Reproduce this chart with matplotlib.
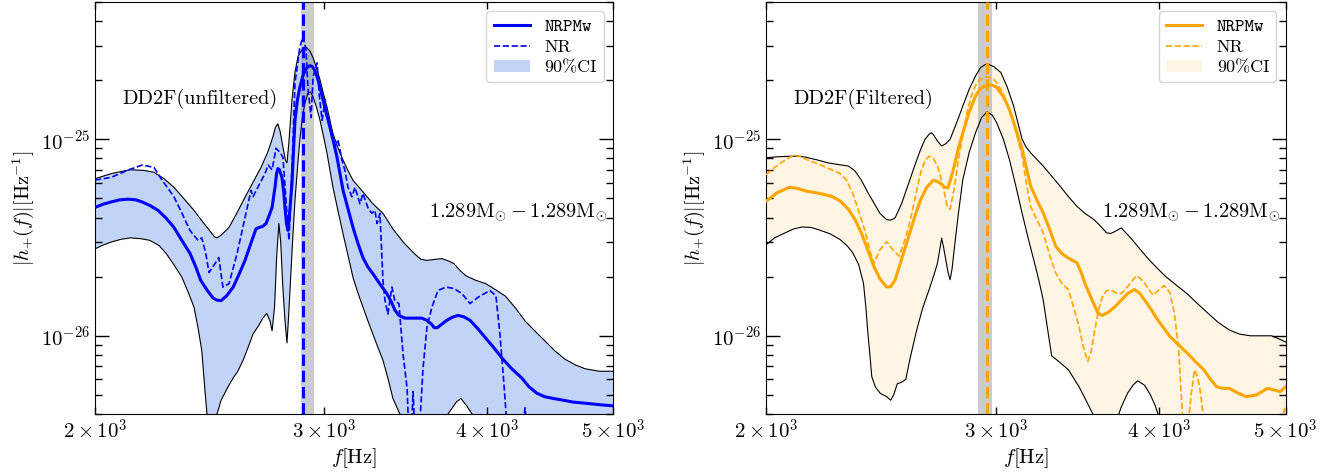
import numpy as np
import matplotlib
matplotlib.use("Agg")
import matplotlib.pyplot as plt
from matplotlib.ticker import NullFormatter, NullLocator, FixedLocator, FuncFormatter

plt.rcParams['font.family'] = 'serif'
plt.rcParams['font.serif'] = ['cmr10']
plt.rcParams['mathtext.fontset'] = 'cm'
plt.rcParams['axes.formatter.use_mathtext'] = True
plt.rcParams['axes.unicode_minus'] = False

H = 1e-26  # values below are in units of 1e-26 Hz^-1

# ---- left panel: DD2F unfiltered ----
L_up_f = [2000, 2060, 2128, 2180, 2220, 2260, 2300, 2340, 2383, 2420, 2449, 2470,
          2482, 2500, 2535, 2570, 2608, 2640, 2683, 2715, 2740, 2752, 2764, 2775,
          2790, 2802, 2809, 2818, 2834, 2849, 2865, 2884, 2905, 2925, 2942, 2960,
          2978, 3000, 3015, 3047, 3075, 3102, 3130, 3157, 3213, 3270, 3329, 3388,
          3450, 3523, 3560, 3598, 3650, 3695, 3740, 3774, 3815, 3855, 3920, 3994,
          4060, 4135, 4210, 4280, 4360, 4434, 4510, 4593, 4680, 4758, 4880, 5000]
L_up_h = [6.3, 6.7, 7.0, 6.95, 6.8, 6.3, 5.7, 5.0, 4.35, 3.8, 3.44, 3.2,
          3.15, 3.25, 3.56, 4.2, 5.07, 5.9, 7.2, 8.6, 10.3, 11.5, 12.0, 11.0,
          9.0, 7.8, 7.6, 9.5, 15.9, 22.0, 26.5, 28.6, 29.5, 28.2, 26.0, 23.0,
          20.1, 16.5, 14.6, 10.7, 9.0, 7.84, 6.9, 6.19, 5.4, 4.7, 4.2, 3.5,
          3.0, 2.6, 2.45, 2.42, 2.45, 2.47, 2.4, 2.33, 2.15, 2.02, 1.92, 1.84,
          1.72, 1.59, 1.38, 1.19, 1.05, 0.94, 0.84, 0.76, 0.71, 0.68, 0.66, 0.66]

L_lo_f = [2000, 2030, 2058, 2095, 2130, 2170, 2204, 2240, 2268, 2300, 2333, 2360,
          2383, 2400, 2416, 2430, 2440, 2455, 2470, 2482, 2500, 2527, 2554, 2575,
          2599, 2620, 2645, 2670, 2692, 2710, 2726, 2736, 2748, 2758, 2769, 2778,
          2788, 2799, 2809, 2816, 2824, 2836, 2849, 2862, 2874, 2887, 2900, 2915,
          2928, 2942, 2960, 2978, 3000, 3015, 3047, 3075, 3102, 3130, 3157, 3185,
          3213, 3240, 3270, 3300, 3329, 3360, 3388, 3430, 3470, 3520, 3682, 3735,
          3790, 3821, 3860, 3897, 3950, 4022, 5000]
L_lo_h = [2.77, 2.9, 3.0, 3.1, 3.15, 3.12, 3.06, 2.88, 2.63, 2.3, 1.98, 1.65,
          1.40, 1.1, 0.84, 0.52, 0.38, 0.3, 0.3, 0.40, 0.47, 0.54, 0.61, 0.66,
          0.75, 0.86, 1.02, 1.12, 1.23, 1.30, 1.19, 1.06, 1.4, 2.5, 3.73, 3.0,
          1.8, 1.2, 0.92, 1.2, 1.70, 2.9, 4.9, 7.2, 10.0, 13.0, 15.3, 17.2,
          17.4, 16.4, 14.5, 12.5, 10.0, 8.5, 5.7, 4.3, 3.3, 2.55, 1.98, 1.65,
          1.40, 1.2, 1.02, 0.87, 0.75, 0.6, 0.48, 0.40, 0.33, 0.3, 0.3, 0.40,
          0.46, 0.48, 0.44, 0.40, 0.33, 0.3, 0.25]

L_med_f = [2000, 2030, 2058, 2090, 2120, 2150, 2174, 2205, 2236, 2270, 2300, 2333,
           2366, 2390, 2412, 2440, 2464, 2480, 2500, 2525, 2554, 2580, 2608, 2635,
           2659, 2673, 2690, 2707, 2722, 2736, 2750, 2758, 2764, 2772, 2784, 2792,
           2799, 2807, 2814, 2822, 2834, 2849, 2861, 2874, 2892, 2910, 2925, 2937,
           2950, 2963, 2978, 2994, 3012, 3031, 3050, 3069, 3085, 3102, 3130, 3157,
           3185, 3213, 3240, 3270, 3310, 3352, 3380, 3400, 3424, 3460, 3523, 3565,
           3598, 3625, 3645, 3665, 3690, 3721, 3760, 3801, 3840, 3883, 3940, 3994,
           4050, 4109, 4180, 4255, 4310, 4371, 4430, 4497, 4580, 4659, 4740, 4818,
           4900, 5000]
L_med_h = [4.5, 4.68, 4.8, 4.92, 4.96, 4.92, 4.8, 4.6, 4.35, 3.95, 3.56, 3.05,
           2.63, 2.25, 1.91, 1.7, 1.56, 1.52, 1.51, 1.6, 1.77, 2.05, 2.42, 2.95,
           3.5, 3.56, 3.6, 3.73, 4.1, 4.5, 5.7, 6.7, 7.1, 7.0, 6.4, 5.5,
           4.5, 3.7, 3.44, 4.2, 6.0, 12.5, 15.8, 18.5, 21.5, 23.2, 23.7, 23.5,
           22.5, 20.8, 18.4, 15.9, 13.5, 11.5, 9.7, 8.1, 6.7, 5.5, 4.4, 3.56,
           2.95, 2.5, 2.25, 2.07, 1.84, 1.64, 1.48, 1.35, 1.27, 1.23, 1.23, 1.23,
           1.20, 1.15, 1.10, 1.10, 1.14, 1.19, 1.24, 1.27, 1.25, 1.20, 1.08, 0.97,
           0.87, 0.77, 0.68, 0.61, 0.55, 0.51, 0.49, 0.48, 0.47, 0.46, 0.455, 0.45,
           0.445, 0.44]

L_nr_f = [2000, 2058, 2120, 2174, 2220, 2252, 2300, 2333, 2366, 2400, 2416, 2433,
          2447, 2473, 2490, 2508, 2535, 2572, 2608, 2636, 2645, 2668, 2702, 2717,
          2736, 2755, 2774, 2789, 2809, 2819, 2834, 2849, 2874, 2890, 2905, 2915,
          2931, 2942, 2963, 2973, 2989, 3005, 3020, 3042, 3058, 3074, 3096, 3112,
          3129, 3151, 3168, 3196, 3213, 3241, 3264, 3282, 3294, 3311, 3329, 3341,
          3358, 3382, 3400, 3424, 3449, 3474, 3486, 3498, 3511, 3523, 3548, 3573,
          3598, 3630, 3669, 3721, 3774, 3828, 3883, 3938, 4022, 4065, 4094, 4123,
          4152, 4242, 4280, 4302, 4400]
L_nr_h = [6.2, 6.4, 6.97, 7.4, 7.2, 6.2, 5.1, 4.2, 3.44, 3.06, 3.15, 2.63,
          2.1, 2.33, 2.5, 1.77, 1.84, 2.63, 4.0, 5.5, 5.1, 5.7, 6.7, 7.4,
          7.0, 9.0, 8.6, 8.1, 4.2, 3.06, 7.2, 19.3, 29.7, 33.3, 28.6, 18.5,
          12.9, 20.8, 24.5, 17.2, 12.5, 15.9, 12.9, 10.7, 9.1, 10.0, 7.84, 6.97,
          5.7, 5.1, 5.7, 4.7, 5.3, 4.5, 4.2, 4.35, 3.73, 4.2, 1.91, 1.51,
          1.29, 1.77, 1.5, 1.46, 0.81, 0.54, 0.3, 0.3, 0.52, 0.3, 0.3, 0.68,
          1.10, 1.40, 1.70, 1.77, 1.74, 1.64, 1.46, 1.57, 1.70, 1.60, 1.02, 0.57,
          0.3, 0.25, 0.43, 0.3, 0.2]

L_f2_nr = 2888
L_band = (2882, 2946)

# ---- right panel: DD2F filtered ----
R_up_f = [2000, 2040, 2084, 2120, 2147, 2190, 2229, 2270, 2313, 2340, 2366, 2392,
          2419, 2445, 2474, 2492, 2511, 2540, 2568, 2597, 2627, 2647, 2666, 2676,
          2686, 2706, 2726, 2746, 2767, 2790, 2810, 2830, 2862, 2894, 2920, 2953,
          2990, 3026, 3060, 3095, 3118, 3142, 3165, 3189, 3225, 3261, 3310, 3359,
          3410, 3461, 3510, 3567, 3610, 3647, 3675, 3702, 3743, 3780, 3814, 3870,
          3930, 3990, 4048, 4120, 4202, 4280, 4362, 4440, 4528, 4610, 4699, 4800,
          4879, 4950, 5000]
R_up_h = [8.06, 8.15, 8.2, 8.2, 8.1, 7.85, 7.6, 7.45, 7.31, 6.9, 6.2, 5.4,
          4.75, 4.2, 3.9, 3.88, 3.98, 4.7, 5.8, 7.2, 8.9, 10.0, 10.6, 10.8,
          10.6, 9.8, 9.25, 9.5, 10.0, 11.5, 13.0, 14.8, 18.0, 21.0, 23.2, 24.3,
          23.4, 21.9, 18.5, 14.8, 12.2, 10.0, 9.1, 8.55, 7.9, 7.31, 6.5, 5.78,
          5.1, 4.56, 4.2, 3.9, 3.6, 3.34, 3.32, 3.4, 3.54, 3.3, 3.09, 2.75,
          2.44, 2.2, 2.0, 1.82, 1.64, 1.46, 1.30, 1.17, 1.07, 1.02, 1.0, 1.0,
          1.0, 0.96, 0.93]

R_lo_f = [2000, 2030, 2068, 2100, 2131, 2165, 2196, 2240, 2279, 2310, 2331, 2355,
          2375, 2385, 2393, 2402, 2410, 2425, 2446, 2474, 2492, 2505, 2521, 2540,
          2559, 2580, 2607, 2636, 2666, 2690, 2706, 2716, 2726, 2736, 2746, 2757,
          2767, 2777, 2787, 2808, 2830, 2862, 2894, 2925, 2953, 2980, 3003, 3040,
          3072, 3107, 3142, 3177, 3212, 3237, 3261, 3285, 3310, 3335, 3359, 3385,
          3410, 3440, 3474, 3505, 3540, 3580, 3620, 3702, 3740, 3784, 3820, 3852,
          3900, 3940, 3974, 4019, 4202, 5000]
R_lo_h = [2.90, 3.15, 3.34, 3.5, 3.58, 3.56, 3.46, 3.3, 3.09, 2.85, 2.64, 2.3,
          1.85, 1.4, 1.05, 0.8, 0.62, 0.55, 0.51, 0.49, 0.47, 0.5, 0.57, 0.58,
          0.60, 0.78, 1.05, 1.38, 1.71, 2.05, 2.34, 2.7, 3.14, 2.8, 2.44, 2.1,
          1.93, 2.2, 2.74, 4.2, 6.24, 8.6, 10.8, 12.9, 13.8, 13.3, 12.2, 10.0,
          7.9, 5.8, 4.2, 3.1, 2.34, 1.9, 1.52, 1.1, 0.79, 0.76, 0.73, 0.70,
          0.67, 0.61, 0.55, 0.49, 0.43, 0.37, 0.3, 0.35, 0.43, 0.51, 0.56, 0.59,
          0.56, 0.5, 0.44, 0.35, 0.3, 0.25]

R_med_f = [2000, 2040, 2084, 2115, 2147, 2200, 2245, 2280, 2313, 2340, 2366, 2392,
           2419, 2445, 2474, 2492, 2511, 2540, 2568, 2597, 2627, 2656, 2686, 2706,
           2726, 2742, 2756, 2771, 2787, 2808, 2830, 2862, 2894, 2920, 2953, 2980,
           3003, 3040, 3072, 3107, 3142, 3165, 3189, 3225, 3261, 3297, 3334, 3370,
           3410, 3435, 3461, 3487, 3513, 3550, 3593, 3620, 3660, 3702, 3743, 3784,
           3829, 3865, 3900, 3945, 3989, 4035, 4079, 4140, 4202, 4265, 4330, 4380,
           4428, 4480, 4528, 4600, 4665, 4750, 4843, 4900, 4953, 5000]
R_med_h = [4.84, 5.35, 5.7, 5.62, 5.45, 5.3, 5.13, 4.85, 4.4, 3.9, 3.34, 2.75,
           2.25, 1.95, 1.77, 1.78, 1.92, 2.45, 3.09, 3.95, 4.94, 5.7, 6.19, 6.1,
           5.9, 5.7, 5.66, 6.3, 7.31, 9.0, 10.8, 13.8, 16.6, 18.2, 18.9, 18.9,
           18.4, 16.5, 14.2, 11.3, 8.9, 7.2, 5.8, 4.9, 4.22, 3.5, 2.85, 2.62,
           2.48, 2.42, 2.35, 2.1, 1.82, 1.55, 1.30, 1.27, 1.32, 1.41, 1.52, 1.64,
           1.72, 1.65, 1.52, 1.36, 1.21, 1.09, 0.99, 0.9, 0.82, 0.74, 0.67, 0.6,
           0.55, 0.54, 0.54, 0.51, 0.49, 0.5, 0.54, 0.53, 0.52, 0.55]

R_nr_f = [2000, 2025, 2054, 2078, 2100, 2125, 2147, 2180, 2212, 2245, 2279, 2305,
          2331, 2358, 2384, 2402, 2419, 2446, 2474, 2500, 2530, 2560, 2587, 2607,
          2627, 2647, 2666, 2686, 2706, 2722, 2736, 2752, 2767, 2787, 2808, 2830,
          2851, 2872, 2894, 2920, 2953, 2980, 3003, 3040, 3072, 3107, 3142, 3165,
          3189, 3225, 3261, 3297, 3334, 3370, 3410, 3440, 3474, 3500, 3527, 3547,
          3567, 3595, 3620, 3648, 3675, 3710, 3743, 3790, 3843, 3870, 3900, 3930,
          3959, 3995, 4034, 4055, 4079, 4110, 4141, 4160, 4171, 4202, 4233, 4258,
          4280, 4297, 4330, 4395, 4916, 5000]
R_nr_h = [6.6, 7.1, 7.6, 8.0, 8.3, 8.2, 7.9, 7.6, 7.31, 7.0, 6.7, 6.2,
          5.3, 4.2, 3.34, 2.7, 2.34, 2.75, 3.02, 2.75, 2.54, 3.2, 4.22, 5.4,
          6.76, 7.8, 8.2, 8.0, 7.31, 6.4, 5.56, 4.6, 4.4, 5.6, 7.9, 10.5,
          13.7, 16.5, 18.8, 20.3, 20.8, 20.5, 19.5, 17.0, 14.2, 11.0, 8.2, 6.0,
          4.56, 3.9, 3.34, 2.6, 2.08, 1.85, 1.71, 1.4, 1.11, 0.88, 0.74, 0.82,
          1.02, 1.35, 1.58, 1.7, 1.71, 1.65, 1.64, 1.8, 2.02, 1.96, 1.85, 1.72,
          1.61, 1.7, 1.8, 1.75, 1.64, 1.3, 0.85, 0.5, 0.38, 0.3, 0.5, 0.67,
          0.62, 0.55, 0.37, 0.25, 0.3, 0.44]

R_f2_nr = 2953
R_band = (2905, 2981)

x_ticks = [2000, 3000, 4000, 5000]
y_ticks = [1e-26, 1e-25]

panels = [
    dict(up=(L_up_f, L_up_h), lo=(L_lo_f, L_lo_h), med=(L_med_f, L_med_h),
         nr=(L_nr_f, L_nr_h), f2=L_f2_nr, band=L_band, color='blue',
         fill='cornflowerblue', alpha=0.4, title='DD2F(unfiltered)'),
    dict(up=(R_up_f, R_up_h), lo=(R_lo_f, R_lo_h), med=(R_med_f, R_med_h),
         nr=(R_nr_f, R_nr_h), f2=R_f2_nr, band=R_band, color='orange',
         fill='orange', alpha=0.1, title='DD2F(Filtered)'),
]

fig = plt.figure(figsize=(13.43, 4.76), dpi=100)
rects = [[0.0707, 0.1303, 0.3857, 0.8655], [0.5704, 0.1303, 0.3868, 0.8655]]

for rect, p in zip(rects, panels):
    ax = fig.add_axes(rect)
    fu, hu = np.array(p['up'][0]), np.array(p['up'][1]) * H
    fl, hl = np.array(p['lo'][0]), np.array(p['lo'][1]) * H
    ci = ax.fill(np.concatenate([fu, fl[::-1]]), np.concatenate([hu, hl[::-1]]),
                 color=p['fill'], alpha=p['alpha'], lw=0, zorder=1)[0]
    ax.plot(fu, hu, color='k', lw=0.8, zorder=3)
    ax.plot(fl, hl, color='k', lw=0.8, zorder=3)
    ax.axvspan(*p['band'], color='gray', alpha=0.4, lw=0, zorder=2)
    med, = ax.plot(p['med'][0], np.array(p['med'][1]) * H, color=p['color'],
                   lw=2.2, zorder=5)
    nr, = ax.plot(p['nr'][0], np.array(p['nr'][1]) * H, color=p['color'],
                  lw=1.2, ls='--', zorder=4)
    ax.axvline(p['f2'], color=p['color'], lw=2.2, ls='--', zorder=6)

    ax.set_xscale('log')
    ax.set_yscale('log')
    ax.set_xlim(2000, 5000)
    ax.set_ylim(4e-27, 5e-25)

    ax.xaxis.set_major_locator(FixedLocator(x_ticks))
    ax.xaxis.set_major_formatter(FuncFormatter(
        lambda v, pos: r'$%d\times10^{3}$' % round(v / 1000)))
    ax.xaxis.set_minor_locator(NullLocator())
    ax.yaxis.set_major_locator(FixedLocator(y_ticks))
    ax.yaxis.set_minor_formatter(NullFormatter())

    ax.tick_params(which='both', direction='in', top=True, right=True,
                   labelsize=15, width=1)
    ax.tick_params(axis='y', which='major', length=10)
    ax.tick_params(axis='y', which='minor', length=5)
    ax.tick_params(axis='x', which='major', length=5)
    ax.set_xlabel(r'$f[\mathrm{Hz}]$', fontsize=15, labelpad=2)
    ax.set_ylabel(r'$|h_{+}(f)|[\mathrm{Hz}^{-1}]$', fontsize=14.5)

    ax.text(0.053, 0.765, p['title'], transform=ax.transAxes, fontsize=14.6,
            va='center', ha='left')
    ax.text(0.99, 0.49, r'$1.289\mathrm{M}_{\odot}-1.289\mathrm{M}_{\odot}$',
            transform=ax.transAxes, fontsize=14.6, va='center', ha='right')

    leg = ax.legend([med, nr, ci], ['NRPMw', 'NR', '90%CI'], loc='upper right',
                    fontsize=13, handlelength=2.0, labelspacing=0.25)
    leg.get_texts()[0].set_fontfamily('cmtt10')

fig.savefig('out.png', dpi=100)
